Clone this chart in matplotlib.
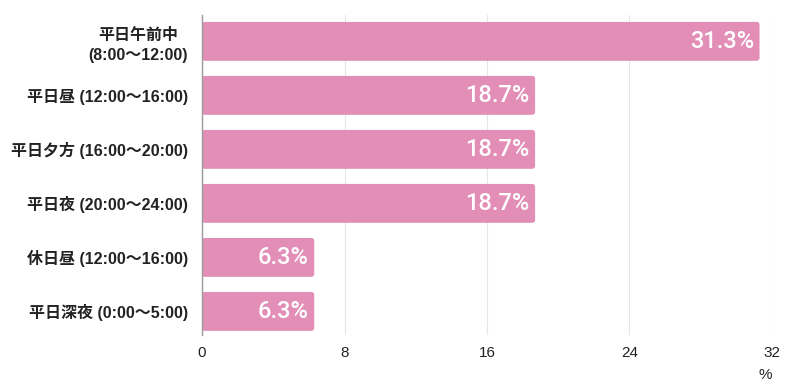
import matplotlib
matplotlib.use("Agg")
import matplotlib.pyplot as plt
from matplotlib.patches import FancyBboxPatch

plt.rcParams['font.family'] = ['Liberation Sans', 'Noto Sans CJK JP', 'DejaVu Sans']

categories = ["平日午前中\n(8:00～12:00)", "平日昼 (12:00～16:00)", "平日夕方 (16:00～20:00)",
              "平日夜 (20:00～24:00)", "休日昼 (12:00～16:00)", "平日深夜 (0:00～5:00)"]
values = [31.3, 18.7, 18.7, 18.7, 6.3, 6.3]
xticks = [0, 8, 16, 24, 32]

bar_color = "#E188B3"

fig = plt.figure(figsize=(8, 3.92), dpi=100)
ax = fig.add_axes([0.2525, 0.145, 0.965 - 0.2525, 0.962 - 0.145])

ypos = list(range(len(categories)))
bars = ax.barh(ypos, values, height=0.72, color=bar_color)

# swap plain bars for slightly rounded ones
for b in bars:
    x0, y0 = b.get_x(), b.get_y()
    w, h = b.get_width(), b.get_height()
    rp = FancyBboxPatch((x0, y0), w, h, boxstyle="round,pad=0,rounding_size=0.16",
                        mutation_aspect=0.33, fc=bar_color, ec="none", alpha=0.95, zorder=2)
    b.remove()
    ax.add_patch(rp)

for y, v in zip(ypos, values):
    ax.text(v - 0.3, y, f"{v}%", ha="right", va="center", color="white",
            fontsize=17, family=["Roboto", "DejaVu Sans"], fontweight="medium", zorder=3)

ax.set_xlim(0, 32)
ax.set_ylim(5.44, -0.49)
ax.set_xticks(xticks)
ax.set_xticklabels([str(t) for t in xticks], fontsize=11, color="#222222")
ax.set_yticks(ypos)
ax.set_yticklabels(categories, fontsize=11.5, fontweight="bold", color="#222222",
                   multialignment="center", linespacing=1.45)
ax.tick_params(axis="both", length=0)
ax.tick_params(axis="x", pad=8)
ax.tick_params(axis="y", pad=10)

ax.grid(True, axis="x", color="#e6e6e6", linewidth=0.8, zorder=0)
ax.set_axisbelow(True)
for s in ["top", "right", "bottom"]:
    ax.spines[s].set_visible(False)
ax.spines["left"].set_color("#999999")
ax.spines["left"].set_linewidth(1)

fig.text(765 / 800, 1 - 375 / 392, "%", ha="center", va="center", fontsize=11, color="#222222")

fig.savefig("out.png", dpi=100)
